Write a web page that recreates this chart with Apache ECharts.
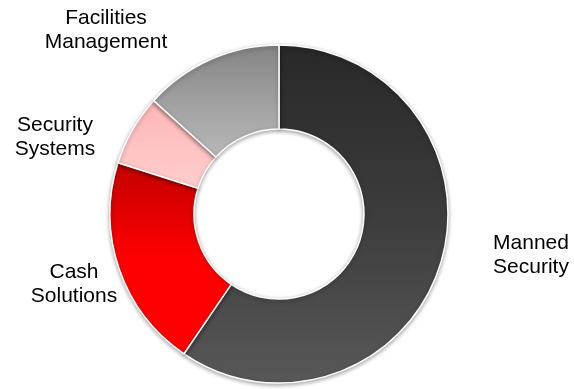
<!DOCTYPE html>
<html>
<head>
<meta charset="utf-8">
<script src="https://cdn.jsdelivr.net/npm/echarts@6/dist/echarts.min.js"></script>
<style>
  html, body { margin: 0; padding: 0; background: #ffffff; }
  #chart { width: 574px; height: 389px; }
</style>
</head>
<body>
<div id="chart"></div>
<script>
// Revenue split by business line (share of total, %)
const categories = ['Manned\nSecurity', 'Cash\nSolutions', 'Security\nSystems', 'Facilities\nManagement'];
const shares = [59.5, 20.4, 6.8, 13.3];

// Vertical gradient per slice: [top colour, mid colour, bottom colour]
const sliceColors = [
  ['#282828', '#3c3c3c', '#585858'],
  ['#c20000', '#ff0000', '#ff0000'],
  ['#ffb6b6', '#ffc2c2', '#ffcdcd'],
  ['#848484', '#a0a0a0', '#b8b8b8']
];

// Where each label block is centred
const labelSpots = [
  [531, 255],
  [74, 284],
  [55, 137],
  [106, 30]
];

function grad(c) {
  return new echarts.graphic.LinearGradient(0, 0, 0, 1, [
    { offset: 0, color: c[0] },
    { offset: 0.5, color: c[1] },
    { offset: 1, color: c[2] }
  ]);
}

const chart = echarts.init(document.getElementById('chart'), null, { renderer: 'canvas' });

chart.setOption({
  animation: false,
  series: [{
    type: 'pie',
    center: [279, 214],
    radius: [85, 169],
    startAngle: 90,
    clockwise: true,
    avoidLabelOverlap: false,
    itemStyle: {
      borderColor: '#ffffff',
      borderWidth: 1.5,
      shadowBlur: 4,
      shadowOffsetY: 1.5,
      shadowColor: 'rgba(0,0,0,0.35)'
    },
    label: {
      show: true,
      position: 'outside',
      color: '#000000',
      fontFamily: '"Liberation Sans", Arial, sans-serif',
      fontSize: 21,
      lineHeight: 24,
      align: 'center'
    },
    labelLine: { show: false },
    labelLayout: function (p) {
      const s = labelSpots[p.dataIndex];
      return { x: s[0], y: s[1], align: 'center', verticalAlign: 'middle' };
    },
    emphasis: { disabled: true },
    data: categories.map((name, i) => ({
      name: name,
      value: shares[i],
      itemStyle: { color: grad(sliceColors[i]) }
    }))
  }]
});
</script>
</body>
</html>
